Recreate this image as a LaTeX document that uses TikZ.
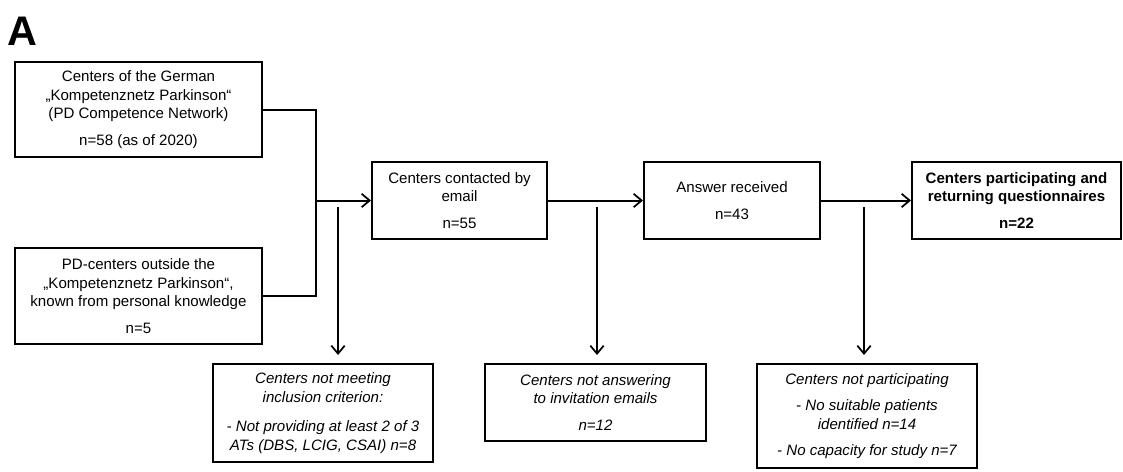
\documentclass[tikz,border=0pt]{standalone}
\usepackage{fontspec}
\setmainfont{Liberation Sans}
\usetikzlibrary{arrows.meta}
\begin{document}
\begin{tikzpicture}[x=0.75pt,y=-0.75pt,
  box/.style={draw, line width=1.5pt, inner sep=0pt, align=center,
    font=\fontsize{11.3}{13.9}\selectfont},
  note/.style={box, font=\fontsize{11.3}{13.9}\selectfont\itshape},
  flow/.style={line width=1.5pt, -{Straight Barb[length=6pt,width=10pt,line width=1.3pt]}},
  link/.style={line width=1.5pt}]
\useasboundingbox (0,0) rectangle (1123,471);

% panel letter
\node[anchor=base west, inner sep=0pt, font=\fontsize{31}{31}\selectfont\bfseries] (panel) at (7,45) {A};

% sources
\node[box, minimum width=185.25pt, minimum height=71.25pt] (b1) at (138.5,109.5)
  {Centers of the German\\ „Kompetenznetz Parkinson“\\ (PD Competence Network)\\[6pt] n=58 (as of 2020)};
\node[box, minimum width=185.25pt, minimum height=72pt] (b2) at (138.5,296)
  {PD-centers outside the\\ „Kompetenznetz Parkinson“,\\ known from personal knowledge\\[6pt] n=5};

% main flow
\node[box, minimum width=131.25pt, minimum height=57.75pt] (b3) at (459.5,200.5)
  {Centers contacted by\\ email\\[6pt] n=55};
\node[box, minimum width=132pt, minimum height=57.75pt] (b4) at (732,200.5)
  {Answer received\\[6pt] n=43};
\node[box, minimum width=156.75pt, minimum height=57.75pt, font=\fontsize{11.3}{13.9}\selectfont\bfseries] (b5) at (1016.5,200.5)
  {Centers participating and\\ returning questionnaires\\[6pt] n=22};

% exclusions
\node[note, minimum width=165pt, minimum height=73.5pt] (e1) at (323,413)
  {Centers not meeting\\ inclusion criterion:\\[8pt] - Not providing at least 2 of 3\\ ATs (DBS, LCIG, CSAI) n=8};
\node[note, minimum width=165.75pt, minimum height=57.75pt] (e2) at (595.5,402.5)
  {Centers not answering\\ to invitation emails\\[6pt] n=12};
\node[note, minimum width=165pt, minimum height=78pt] (e3) at (867,416)
  {Centers not participating\\[6pt] - No suitable patients\\ identified n=14\\[6pt] - No capacity for study n=7};

% connectors
\coordinate (j1) at (316,201);
\draw[link] (b1.east) -- (b1.east -| j1) |- (b2.east);
\draw[flow] (b3.west -| j1) -- (b3.west);
\draw[flow] (b3.east) -- (b4.west);
\draw[flow] (b4.east) -- (b5.west);

\coordinate (d1) at (338,207);
\coordinate (d2) at (597,207);
\coordinate (d3) at (864,207);
\draw[flow, shorten >=6pt] (d1) -- (d1 |- e1.north);
\draw[flow, shorten >=6pt] (d2) -- (d2 |- e2.north);
\draw[flow, shorten >=6pt] (d3) -- (d3 |- e3.north);
\end{tikzpicture}
\end{document}
